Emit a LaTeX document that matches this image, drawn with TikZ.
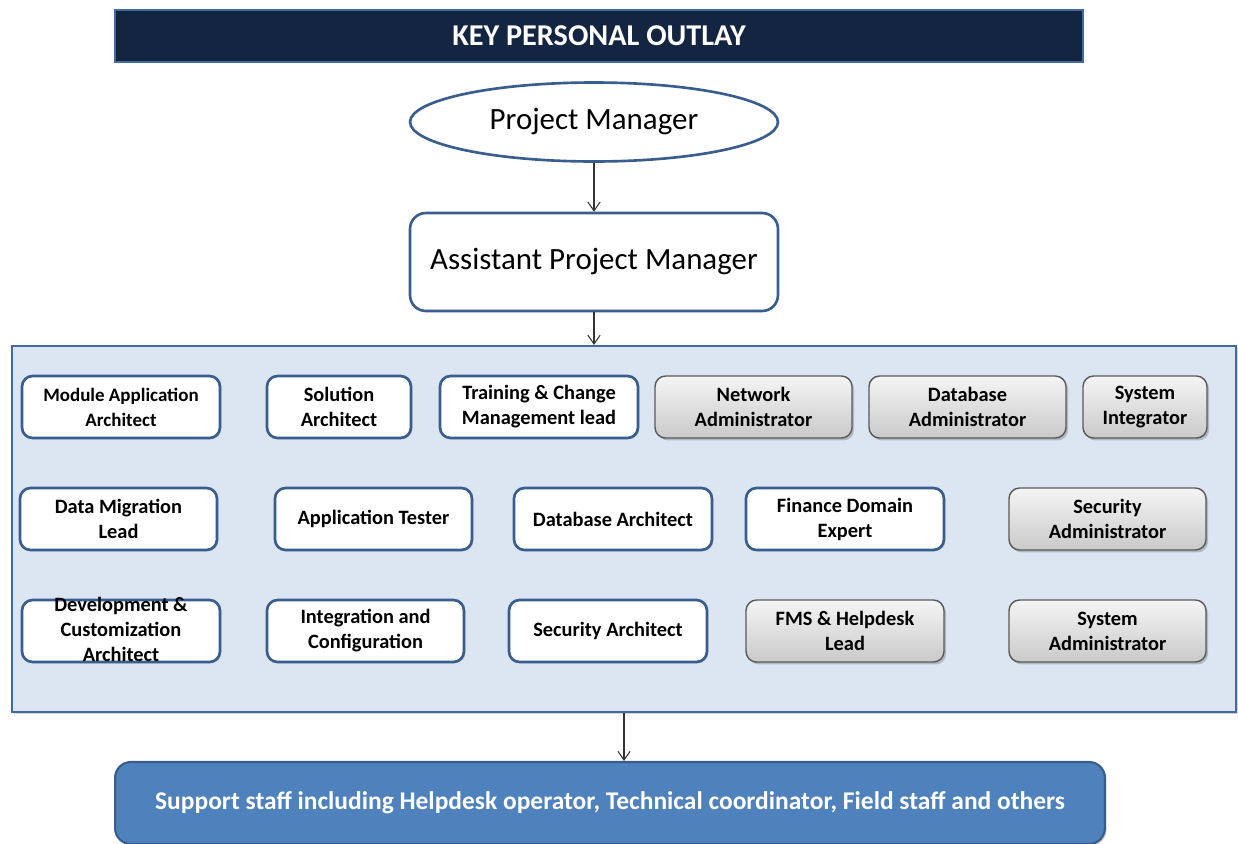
\documentclass[tikz,border=0pt]{standalone}
\usepackage{fontspec}
\setmainfont{Carlito}
\usetikzlibrary{shapes.geometric,shadows,arrows.meta}

\definecolor{headnavy}{RGB}{19,37,64}
\definecolor{edgeblue}{RGB}{56,93,142}
\definecolor{frameblue}{RGB}{66,106,160}
\definecolor{paleblue}{RGB}{220,230,242}
\definecolor{staffblue}{RGB}{79,129,189}
\definecolor{staffedge}{RGB}{56,93,138}

\tikzset{
  headbar/.style={draw=frameblue,line width=1.2pt,fill=headnavy,text=white,
    minimum width=19.36cm,minimum height=1.04cm,
    font=\bfseries\fontsize{17.2}{20}\selectfont},
  pmoval/.style={ellipse,draw=edgeblue,line width=1.5pt,fill=white,inner sep=0pt,
    minimum width=7.36cm,minimum height=1.58cm,font=\fontsize{17.6}{21}\selectfont},
  apmbox/.style={rectangle,rounded corners=9pt,draw=edgeblue,line width=1.5pt,fill=white,
    minimum width=7.36cm,minimum height=1.96cm,font=\fontsize{17.6}{21}\selectfont},
  teamframe/.style={rectangle,draw=frameblue,line width=1.3pt,fill=paleblue,
    minimum width=24.48cm,minimum height=7.32cm,
    drop shadow={shadow xshift=1pt,shadow yshift=-1.2pt,opacity=.35}},
  rolebox/.style={rectangle,rounded corners=6pt,draw=edgeblue,line width=1.5pt,fill=white,
    align=center,inner sep=1pt,minimum width=3.96cm,minimum height=1.24cm,
    font=\bfseries\fontsize{11.6}{14.2}\selectfont,
    drop shadow={shadow xshift=.8pt,shadow yshift=-.8pt,opacity=.25}},
  adminbox/.style={rectangle,rounded corners=6pt,draw=black!65,line width=.8pt,
    top color=gray!8,bottom color=gray!42,
    align=center,inner sep=1pt,minimum width=3.94cm,minimum height=1.24cm,
    font=\bfseries\fontsize{11.6}{14.2}\selectfont,
    drop shadow={shadow xshift=1.2pt,shadow yshift=-1.4pt,opacity=.45}},
  staffbox/.style={rectangle,rounded corners=9pt,draw=staffedge,line width=1.2pt,
    fill=staffblue,text=white,minimum width=19.8cm,minimum height=1.64cm,
    font=\bfseries\fontsize{14.5}{17}\selectfont,
    drop shadow={shadow xshift=1pt,shadow yshift=-1pt,opacity=.35}},
  link/.style={-{Straight Barb[length=5pt,width=7pt]},line width=.6pt,draw=black!80}
}

\begin{document}
\begin{tikzpicture}[x=0.02cm,y=-0.02cm]
  \useasboundingbox (0,0) rectangle (1238,843);

  \node[headbar] (head) at (599,36) {KEY PERSONAL OUTLAY};
  \node[pmoval] (pm) at (594,122) {Project Manager};
  \node[apmbox] (apm) at (594,262) {Assistant Project Manager};
  \node[teamframe] (team) at (624,529) {};
  \node[staffbox] (staff) at (610,803)
    {Support staff including Helpdesk operator, Technical coordinator, Field staff and others};

  % core roles
  \foreach \n/\x/\y/\w/\t in {
      sarch/339/407/2.88/{Solution\\Architect},
      tcm/539/407/3.96/{Training \& Change\\Management lead},
      dml/118.5/519/3.94/{Data Migration\\Lead},
      tester/373.5/519/3.94/{Application Tester},
      dbarch/613/519/3.96/{Database Architect},
      fde/845/519/3.96/{Finance Domain\\Expert},
      integ/365.5/631/3.94/{Integration and\\Configuration},
      secarch/608/631/3.96/{Security Architect}}
    \node[rolebox,minimum width=\w cm] (\n) at (\x,\y) {\t};
  \node[rolebox,font=\bfseries\fontsize{10.8}{14.2}\selectfont] (maa) at (121,407)
    {Module Application\\Architect};
  \node[rolebox] (dca) at (121,631)
    {\smash{\lower3.4pt\hbox{\begin{tabular}{@{}c@{}}Development \&\\Customization\\Architect\end{tabular}}}};

  % administration roles
  \foreach \n/\x/\y/\w/\t in {
      netadm/753.5/407/3.94/{Network\\Administrator},
      dbadm/967.5/407/3.94/{Database\\Administrator},
      sysint/1145/407/2.48/{System\\Integrator},
      secadm/1107.5/519/3.94/{Security\\Administrator},
      fms/845/631/3.96/{FMS \& Helpdesk\\Lead},
      sysadm/1107.5/631/3.94/{System\\Administrator}}
    \node[adminbox,minimum width=\w cm] (\n) at (\x,\y) {\t};

  \draw[link] (pm) -- (apm);
  \draw[link] (apm.south) -- (apm.south |- team.north);
  \draw[link] (team.south) -- (team.south |- staff.north);
\end{tikzpicture}
\end{document}
